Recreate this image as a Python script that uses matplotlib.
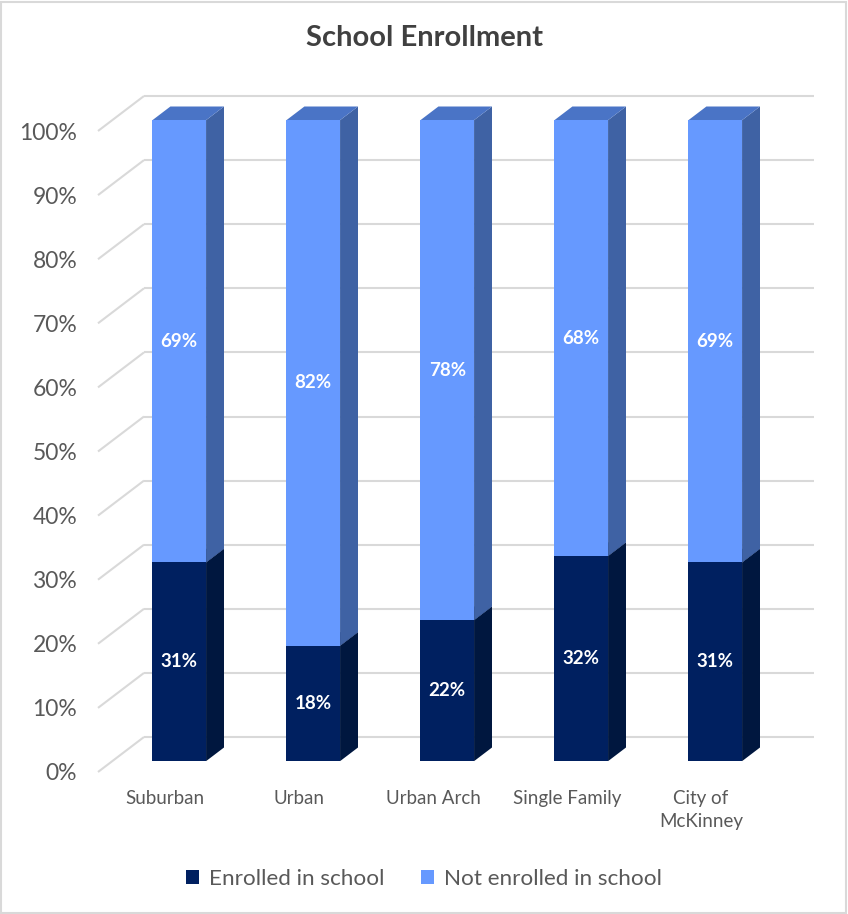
import matplotlib
matplotlib.use("Agg")
import matplotlib.pyplot as plt
from matplotlib.patches import Polygon, Rectangle, Patch

# 数据
categories = ["Suburban", "Urban", "Urban Arch", "Single Family", "City of\nMcKinney"]
enrolled = [31, 18, 22, 32, 31]
not_enrolled = [69, 82, 78, 68, 69]
series_names = ["Enrolled in school", "Not enrolled in school"]
y_ticks = [0, 10, 20, 30, 40, 50, 60, 70, 80, 90, 100]

# 颜色: 正面 / 侧面 / 顶面
dark_cols = ("#002060", "#00173F", "#001A4C")
light_cols = ("#6699FF", "#3F62A4", "#4A74C6")
grid_col = "#D9D9D9"
text_col = "#595959"

plt.rcParams["font.family"] = ["Lato", "DejaVu Sans"]

W, H = 848, 914
fig = plt.figure(figsize=(W / 100, H / 100), dpi=100)
fig.patch.set_facecolor("white")

# 坐标轴位置(像素换算)
ax_left, ax_right = 98, 768
ax_bottom, ax_top = 772, 131
ax = fig.add_axes([ax_left / W, 1 - ax_bottom / H,
                   (ax_right - ax_left) / W, (ax_bottom - ax_top) / H])
ax.set_xlim(-0.5, len(categories) - 0.5)
ax.set_ylim(0, 100)

# 斜投影: 每单位深度在数据坐标上的偏移
px_x = (len(categories)) / (ax_right - ax_left)
px_y = 100 / (ax_bottom - ax_top)
DX, DY = 46 * px_x, 35 * px_y

# 后墙网格线 + 左墙斜线
x0, x1 = -0.5, len(categories) - 0.5
for t in y_ticks:
    ax.plot([x0 + DX, x1 + DX], [t + DY, t + DY], color=grid_col, lw=1.5,
            clip_on=False, zorder=1, solid_capstyle="butt")
    ax.plot([x0, x0 + DX], [t, t + DY], color=grid_col, lw=1.5,
            clip_on=False, zorder=1, solid_capstyle="butt")

bar_w = 0.40
z_front, z_back = 0.31, 0.70


def draw_block(xc, y_lo, y_hi, cols, z):
    # 画一个立方体段: 侧面、顶面、正面
    fx, fy = z_front * DX, z_front * DY
    dx, dy = (z_back - z_front) * DX, (z_back - z_front) * DY
    xl = xc - bar_w / 2 + fx
    xr = xc + bar_w / 2 + fx
    lo, hi = y_lo + fy, y_hi + fy
    side = Polygon([(xr, lo), (xr + dx, lo + dy), (xr + dx, hi + dy), (xr, hi)],
                   closed=True, facecolor=cols[1], edgecolor="none",
                   clip_on=False, zorder=z)
    top = Polygon([(xl, hi), (xl + dx, hi + dy), (xr + dx, hi + dy), (xr, hi)],
                  closed=True, facecolor=cols[2], edgecolor="none",
                  clip_on=False, zorder=z)
    front = Rectangle((xl, lo), xr - xl, hi - lo, facecolor=cols[0],
                      edgecolor="none", clip_on=False, zorder=z)
    for p in (side, top, front):
        ax.add_patch(p)
    return (xl + xr) / 2, (lo + hi) / 2


for i in range(len(categories)):
    e, n = enrolled[i], not_enrolled[i]
    cx, cy = draw_block(i, 0, e, dark_cols, 3 + i)
    ax.text(cx, cy, f"{e}%", color="white", fontsize=13.5, fontweight="bold",
            ha="center", va="center", zorder=10)
    cx, cy = draw_block(i, e, e + n, light_cols, 3 + i)
    ax.text(cx, cy, f"{n}%", color="white", fontsize=13.5, fontweight="bold",
            ha="center", va="center", zorder=10)

# 坐标轴标签
ax.set_yticks(y_ticks)
ax.set_yticklabels([f"{t}%" for t in y_ticks], fontsize=16.5, color=text_col)
ax.set_xticks(range(len(categories)))
ax.set_xticklabels(categories, fontsize=13.5, color=text_col, linespacing=1.45)
ax.tick_params(axis="y", length=0, pad=15)
ax.tick_params(axis="x", length=0, pad=13)
for s in ax.spines.values():
    s.set_visible(False)
ax.patch.set_alpha(0)

fig.text(0.5, 1 - 38 / H, "School Enrollment", ha="center", va="center",
         fontsize=21, fontweight="bold", color="#404040")

handles = [Patch(facecolor=dark_cols[0], label=series_names[0]),
           Patch(facecolor=light_cols[0], label=series_names[1])]
fig.legend(handles=handles, loc="center", bbox_to_anchor=(0.5, 1 - 879 / H),
           ncol=2, frameon=False, fontsize=16.2, handlelength=0.6,
           handleheight=0.6, handletextpad=0.45, columnspacing=1.6,
           labelcolor=text_col)

# 外边框
fig.patches.append(Rectangle((0.001, 0.001), 0.997, 0.997, transform=fig.transFigure,
                             fill=False, edgecolor=grid_col, lw=1.5))

fig.savefig("out.png", dpi=100)
